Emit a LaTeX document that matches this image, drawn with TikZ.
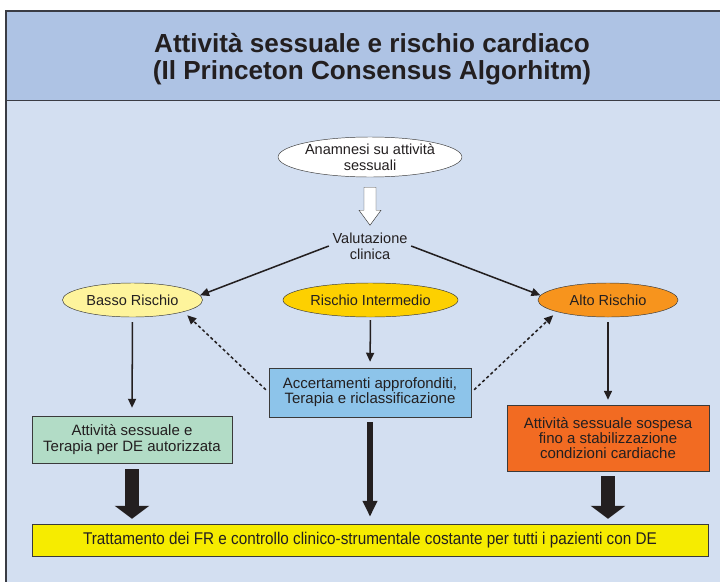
\documentclass[tikz,border=0pt]{standalone}
\usepackage{fontspec}
\setmainfont{Liberation Sans}
\newfontfamily\narrowfont[FakeStretch=0.9]{Liberation Sans}
\usetikzlibrary{shapes.geometric, arrows.meta}

\definecolor{headbg}{HTML}{AEC3E4}
\definecolor{bodybg}{HTML}{D3DFF1}
\definecolor{frameline}{HTML}{3A3C44}
\definecolor{txt}{HTML}{231F20}
\definecolor{edge}{HTML}{3A3A3A}
\definecolor{lowrisk}{HTML}{FEF49C}
\definecolor{midrisk}{HTML}{FDD000}
\definecolor{highrisk}{HTML}{F7941D}
\definecolor{checkbox}{HTML}{8DC4EA}
\definecolor{okbox}{HTML}{B2DCC6}
\definecolor{stopbox}{HTML}{F26B22}
\definecolor{allbox}{HTML}{F6EC00}

\begin{document}
\begin{tikzpicture}[x=0.03cm,y=-0.03cm,>={Triangle[length=0.27cm,width=0.24cm]}]

			\tikzstyle{every node}=[font=\fontsize{12.4}{13.5}\selectfont,text=txt,align=center]

			\tikzstyle{top state}=[ellipse,draw=edge,thin,fill=white,minimum width=5.25cm,minimum height=1.2cm,inner sep=0pt]
			\tikzstyle{risk state}=[ellipse,draw=edge,thin,minimum width=4.2cm,minimum height=1.02cm,inner sep=0pt]
			\tikzstyle{action box}=[rectangle,draw=edge,thin,inner sep=0pt,font=\fontsize{12.8}{12.9}\selectfont]
			\tikzstyle{flow}=[->,line width=1.3pt,draw=txt]
			\tikzstyle{reclass}=[->,line width=1.3pt,draw=txt,dash pattern=on 2.6pt off 2.2pt]
			\tikzstyle{block}=[-{Triangle[length=0.39cm,width=1.02cm]},line width=0.42cm,draw=txt]
			\tikzstyle{hollow}=[draw=edge,thin,fill=white,line join=miter]

			\useasboundingbox (0,0) rectangle (720,582);

			% frame and title band
			\fill[bodybg] (6,11) rectangle (726,590);
			\fill[headbg] (6,11) rectangle (726,100.5);
			\draw[frameline,line width=1.6pt] (726,11) -- (6,11) -- (6,590);
			\draw[frameline,line width=1.6pt] (6,100.5) -- (726,100.5);

			\node[font=\bfseries\fontsize{22.3}{23}\selectfont] (TT) at (372,59) {Attività sessuale e rischio cardiaco\\(Il Princeton Consensus Algorhitm)};

			\node[top state]                  (A0) at (370,157)   {Anamnesi su attività\\sessuali};
			\node[inner sep=3pt]              (V)  at (370,246)   {Valutazione\\clinica};
			\node[risk state,fill=lowrisk]    (BR) at (132.5,300) {Basso Rischio};
			\node[risk state,fill=midrisk,minimum width=5.25cm] (IR) at (370.5,300) {Rischio Intermedio};
			\node[risk state,fill=highrisk]   (AR) at (608,300)   {Alto Rischio};

			\node[action box,fill=checkbox,minimum width=6.06cm,minimum height=1.47cm] (ACC) at (370,392.5) {Accertamenti approfonditi,\\Terapia e riclassificazione};
			\node[action box,fill=okbox,minimum width=6cm,minimum height=1.41cm]       (GB)  at (132,439.5) {Attività sessuale e\\Terapia per DE autorizzata};
			\node[action box,fill=stopbox,minimum width=6.06cm,minimum height=1.98cm]  (OB)  at (608,438) {Attività sessuale sospesa\\fino a stabilizzazione\\condizioni cardiache};
			\node[action box,fill=allbox,minimum width=20.28cm,minimum height=0.96cm,font=\narrowfont\fontsize{14.5}{15}\selectfont] (YB) at (370,540) {Trattamento dei FR e controllo clinico-strumentale costante per tutti i pazienti con DE};

			% hollow arrow
			\draw[hollow] ([xshift=-0.18cm,yshift=-0.3cm]A0.south) -- ++(12,0) -- ++(0,23) -- ++(5,0) -- ++(-11,15) -- ++(-11,-15) -- ++(5,0) -- cycle;

			\draw[flow] (V.west) -- (BR.4);
			\draw[flow] (V.east) -- (AR.176);
			\draw[flow,shorten <=0.15cm,shorten >=0.24cm] (BR.south) -- (GB.north);
			\draw[flow,shorten <=0.09cm,shorten >=0.18cm] (IR.south) -- (ACC.north);
			\draw[flow,shorten <=0.15cm,shorten >=0.15cm] (AR.south) -- (OB.north);
			\draw[reclass,shorten <=0.12cm,shorten >=0.15cm] (ACC.west) -- (BR.-13);
			\draw[reclass,shorten <=0.12cm,shorten >=0.15cm] (ACC.east) -- (AR.193);

			% thick arrows to the common box
			\draw[block,shorten <=0.18cm,shorten >=0.15cm] (GB.south) -- (GB.south |- YB.north);
			\draw[block,shorten <=0.15cm,shorten >=0.15cm] (OB.south) -- (OB.south |- YB.north);
			\draw[-{Triangle[length=0.48cm,width=0.42cm]},line width=0.2cm,draw=txt,shorten <=0.15cm,shorten >=0.21cm] (ACC.south) -- (YB.north -| ACC.south);

\end{tikzpicture}
\end{document}
